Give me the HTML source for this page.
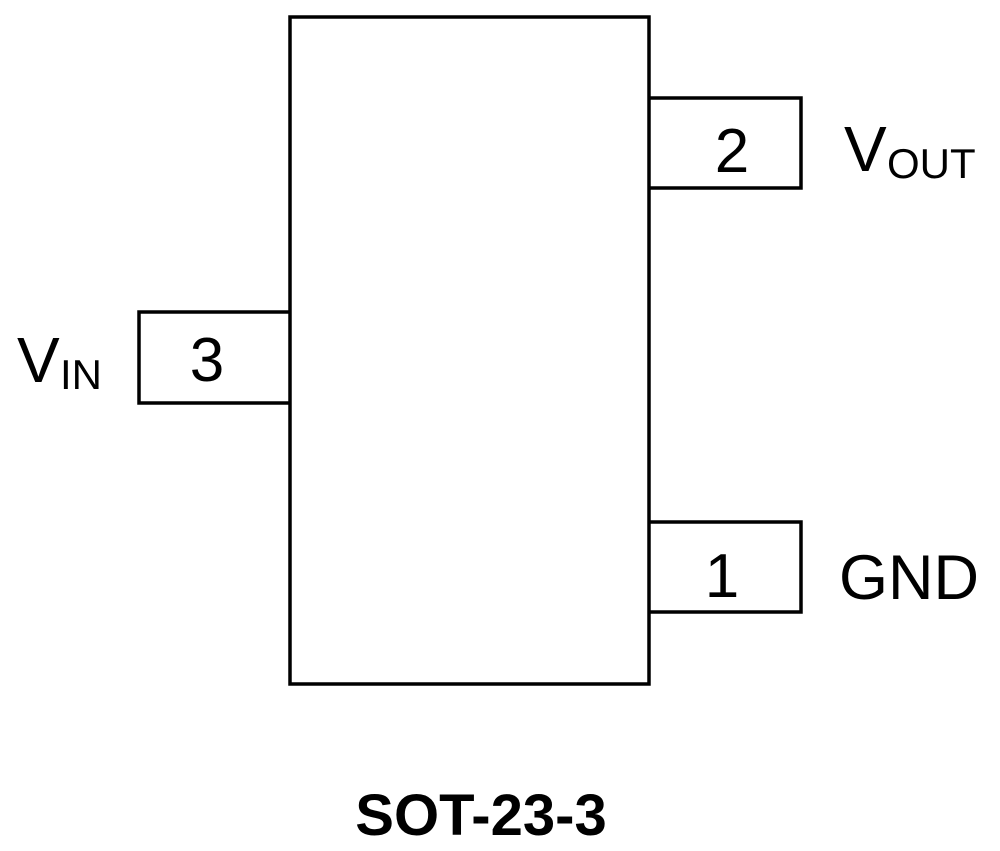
<!DOCTYPE html>
<html><head><style>html,body{margin:0;padding:0;background:#fff;}svg{display:block}</style></head>
<body>
<svg width="1000" height="851" viewBox="0 0 1000 851" xmlns="http://www.w3.org/2000/svg">
<g fill="none" stroke="#000" stroke-width="3.5">
<rect x="290" y="17" width="359" height="667"/>
<polyline points="649,98 801,98 801,188 649,188"/>
<polyline points="290,312 139,312 139,403 290,403"/>
<polyline points="649,522 801,522 801,612 649,612"/>
</g>
<g font-family="Liberation Sans, sans-serif" fill="#000">
<text x="732" y="172" font-size="62" text-anchor="middle">2</text>
<text x="844" y="171" font-size="64">V</text>
<text x="887" y="178" font-size="42">OUT</text>
<text x="207" y="381" font-size="62" text-anchor="middle">3</text>
<text x="17" y="382" font-size="64">V</text>
<text x="60" y="389" font-size="42">IN</text>
<text x="722" y="597" font-size="62" text-anchor="middle">1</text>
<text x="839" y="599" font-size="63">GND</text>
<text x="481" y="835" font-size="58" font-weight="bold" text-anchor="middle">SOT-23-3</text>
</g>
</svg>
</body></html>
